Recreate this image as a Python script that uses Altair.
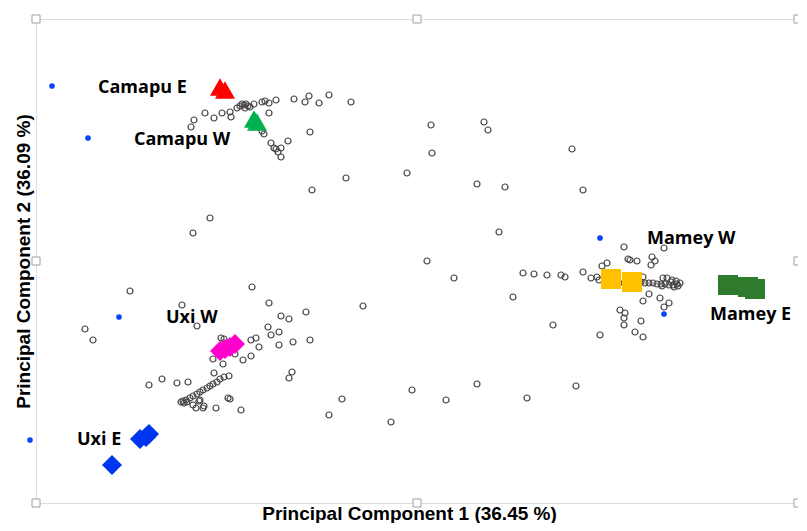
import altair as alt
import pandas as pd

# ---- data (PCA scores) ----
grey_pc1 = [
    -2.32, -2.29, -2.18, -2.09, -2.01, -1.93, -1.92, -1.86, -1.83, -1.81, -1.79, -1.77, -1.75, -1.78, -1.73,
    -1.69, -1.61, -1.58, -1.54, -1.47, -1.54, -1.29, -1.18, -1.14, -1.04, -0.94, -0.72, -1.61, -1.59, -1.13,
    -1.35, -1.52, -1.49, -1.47, -1.42, -1.45, -1.42, -0.77, -1.11, -2.13, -2.30,
    0.08, 0.61, 0.65, 0.09, 1.49, -0.16, 0.54, 0.82, 1.60, 0.76,
    0.04, 0.31, 1.00, 1.11, 1.24, 1.38, 1.42, 1.60, 1.79, 1.84,
    2.01, 2.41, 2.05, 2.07, 2.14, 2.29, 2.32, 2.28, 1.68, 1.74, 1.76, 1.96, 2.20,
    2.14, 2.18, 2.22, 2.26, 2.30, 2.34, 2.38, 2.42, 2.46, 2.50, 2.54, 2.57, 2.53, 2.48, 2.55, 2.51,
    2.40, 2.44, 2.49, 2.39, 2.26, 2.20, 2.37, 2.46, 2.41, 0.90, 1.30, 1.77, 1.97, 2.02, 2.01, 2.01,
    2.18, 2.12, 2.20,
    -0.60, -0.81, -0.94, -0.32, -0.11, 0.23, 0.54, 1.04, 1.53,
    -2.93, -3.38, -3.30, -2.41, -2.26, -1.71, -1.54, -1.42, -1.34, -1.55, -1.44, -1.52, -1.30, -1.44,
    -1.72, -1.67, -1.64, -1.72, -1.80, -1.88, -2.02, -1.99, -2.10, -2.00, -2.09, -1.94, -1.31, -1.34,
    -2.74, -2.61, -2.46, -2.35, -1.17, -1.13,
    -1.99, -2.03, -2.06, -2.10, -2.13, -2.16, -2.20, -2.23, -2.26, -2.30, -2.33, -2.37, -2.40, -2.42,
    -2.39, -2.36, -2.24, -2.30, -2.19, -2.27, -2.20, -2.07, -1.95, -1.93, -1.82, -2.23,
]
grey_pc2 = [
    1.35, 1.42, 1.49, 1.44, 1.49, 1.50, 1.45, 1.54, 1.56, 1.58, 1.57, 1.58, 1.56, 1.54, 1.55,
    1.58, 1.60, 1.61, 1.59, 1.62, 1.49, 1.63, 1.60, 1.66, 1.59, 1.67, 1.60, 1.31, 1.28, 1.30,
    1.21, 1.19, 1.14, 1.13, 1.14, 1.10, 1.05, 0.84, 0.72, 0.44, 0.29,
    1.37, 1.40, 1.32, 1.09, 1.13, 0.89, 0.78, 0.75, 0.72, 0.30,
    0.01, -0.16, -0.11, -0.12, -0.13, -0.13, -0.15, -0.10, -0.04, -0.01,
    0.15, 0.14, 0.03, 0.02, 0.01, 0.05, 0.01, -0.03, -0.16, -0.15, -0.18, -0.21, -0.15,
    -0.20, -0.20, -0.21, -0.21, -0.21, -0.22, -0.22, -0.22, -0.23, -0.23, -0.22, -0.21, -0.19, -0.20, -0.24, -0.25,
    -0.16, -0.16, -0.18, -0.24, -0.32, -0.39, -0.36, -0.41, -0.45, -0.35, -0.63, -0.73, -0.48, -0.51, -0.56, -0.63,
    -0.59, -0.70, -0.75,
    -0.44, -1.37, -1.53, -1.60, -1.28, -1.38, -1.22, -1.36, -1.24,
    -0.29, -0.67, -0.78, -0.43, -0.64, -0.25, -0.41, -0.54, -0.57, -0.65, -0.70, -0.73, -0.80, -0.83,
    -0.78, -0.76, -0.85, -0.94, -0.98, -0.92, -0.76, -0.77, -0.97, -1.02, -1.11, -1.14, -1.10, -1.16,
    -1.23, -1.17, -1.21, -1.20, -0.50, -0.78,
    -1.15, -1.17, -1.20, -1.22, -1.24, -1.26, -1.28, -1.30, -1.32, -1.34, -1.36, -1.38, -1.39, -1.40,
    -1.41, -1.40, -1.39, -1.43, -1.44, -1.46, -1.46, -1.46, -1.36, -1.37, -1.48, -1.38,
]

blue_pc1 = [-3.71, -3.35, 1.77, 2.41, -3.04, -3.93]
blue_pc2 = [1.76, 1.24, 0.24, -0.52, -0.55, -1.78]

marker_group = ["Camapu E", "Camapu E", "Camapu W", "Camapu W",
                "Mamey W", "Mamey W", "Mamey E", "Mamey E", "Mamey E",
                "Uxi W", "Uxi W", "Uxi W", "Uxi W",
                "Uxi E", "Uxi E", "Uxi E", "Uxi E"]
marker_pc1 = [-2.03, -1.98, -1.69, -1.66,
              1.88, 2.09, 3.05, 3.25, 3.32,
              -2.03, -1.98, -1.93, -1.88,
              -2.83, -2.77, -2.74, -3.11]
marker_pc2 = [1.75, 1.72, 1.43, 1.40,
              -0.17, -0.20, -0.23, -0.25, -0.27,
              -0.89, -0.87, -0.85, -0.82,
              -1.77, -1.75, -1.72, -2.03]

group_names = ["Camapu E", "Camapu W", "Mamey W", "Mamey E", "Uxi W", "Uxi E"]
group_colors = ["#FF0000", "#00B050", "#FFC000", "#2E7B2E", "#FF00CC", "#0035F0"]
group_shapes = ["triangle-up", "triangle-up", "square", "square", "diamond", "diamond"]
group_sizes = [400, 400, 225, 210, 260, 330]

label_text = ["Camapu E", "Camapu W", "Uxi W", "Uxi E", "Mamey W", "Mamey E"]
label_pc1 = [-3.25, -2.89, -2.57, -3.46, 2.24, 2.87]
label_pc2 = [1.74, 1.22, -0.56, -1.78, 0.23, -0.53]

x_domain = [-3.87, 3.75]
y_domain = [-2.41, 2.43]
x_title = "Principal Component 1 (36.45 %)"
y_title = "Principal Component 2 (36.09 %)"

# ---- tables ----
grey_df = pd.DataFrame({"pc1": grey_pc1, "pc2": grey_pc2})
blue_df = pd.DataFrame({"pc1": blue_pc1, "pc2": blue_pc2})
marker_df = pd.DataFrame({"pc1": marker_pc1, "pc2": marker_pc2, "group": marker_group})
label_df = pd.DataFrame({"pc1": label_pc1, "pc2": label_pc2, "text": label_text})
hx = [x_domain[0], sum(x_domain) / 2, x_domain[1]]
hy = [y_domain[0], sum(y_domain) / 2, y_domain[1]]
handle_df = pd.DataFrame([{"pc1": a, "pc2": b} for a in hx for b in hy if not (a == hx[1] and b == hy[1])])

W, H = 762, 484
xs = alt.Scale(domain=x_domain, nice=False, zero=False)
ys = alt.Scale(domain=y_domain, nice=False, zero=False)
ax_common = dict(ticks=False, labels=False, grid=False, domain=False,
                 titleFont="Liberation Sans", titleFontSize=19, titleFontWeight="bold",
                 titleColor="#000000")
X = alt.X("pc1:Q", scale=xs, axis=alt.Axis(title=x_title, titlePadding=1, titleX=373, **ax_common))
Y = alt.Y("pc2:Q", scale=ys, axis=alt.Axis(title=y_title, titlePadding=3, **ax_common))
Xn = alt.X("pc1:Q", scale=xs)
Yn = alt.Y("pc2:Q", scale=ys)

grey = alt.Chart(grey_df).mark_point(shape="circle", filled=False, stroke="#454545",
                                     strokeWidth=1.2, size=36, opacity=1, clip=False).encode(x=X, y=Y)
blue = alt.Chart(blue_df).mark_circle(color="#0B45F5", size=32, opacity=1, clip=False).encode(x=Xn, y=Yn)
markers = alt.Chart(marker_df).mark_point(filled=True, opacity=1, strokeWidth=0, clip=False).encode(
    x=Xn, y=Yn,
    color=alt.Color("group:N", scale=alt.Scale(domain=group_names, range=group_colors), legend=None),
    shape=alt.Shape("group:N", scale=alt.Scale(domain=group_names, range=group_shapes), legend=None),
    size=alt.Size("group:N", scale=alt.Scale(domain=group_names, range=group_sizes), legend=None),
)
labels = alt.Chart(label_df).mark_text(align="left", baseline="middle", font="Open Sans",
                                       fontWeight="bold", fontSize=18, color="#000000",
                                       clip=False).encode(x=Xn, y=Yn, text="text:N")
handles = alt.Chart(handle_df).mark_point(shape="square", filled=True, fill="#FFFFFF",
                                          stroke="#A0A0A0", strokeWidth=1, size=64, opacity=1,
                                          clip=False).encode(x=Xn, y=Yn)

chart = alt.layer(grey, blue, markers, labels, handles).properties(
    width=W, height=H,
    autosize=alt.AutoSizeParams(type="none"),
    padding={"left": 28, "top": 11, "right": 0, "bottom": 20},
).configure_view(stroke="#A0A0A0", strokeWidth=2).configure(background="#FFFFFF")

chart.save("out.html", embed_options={"renderer": "svg", "actions": False})
